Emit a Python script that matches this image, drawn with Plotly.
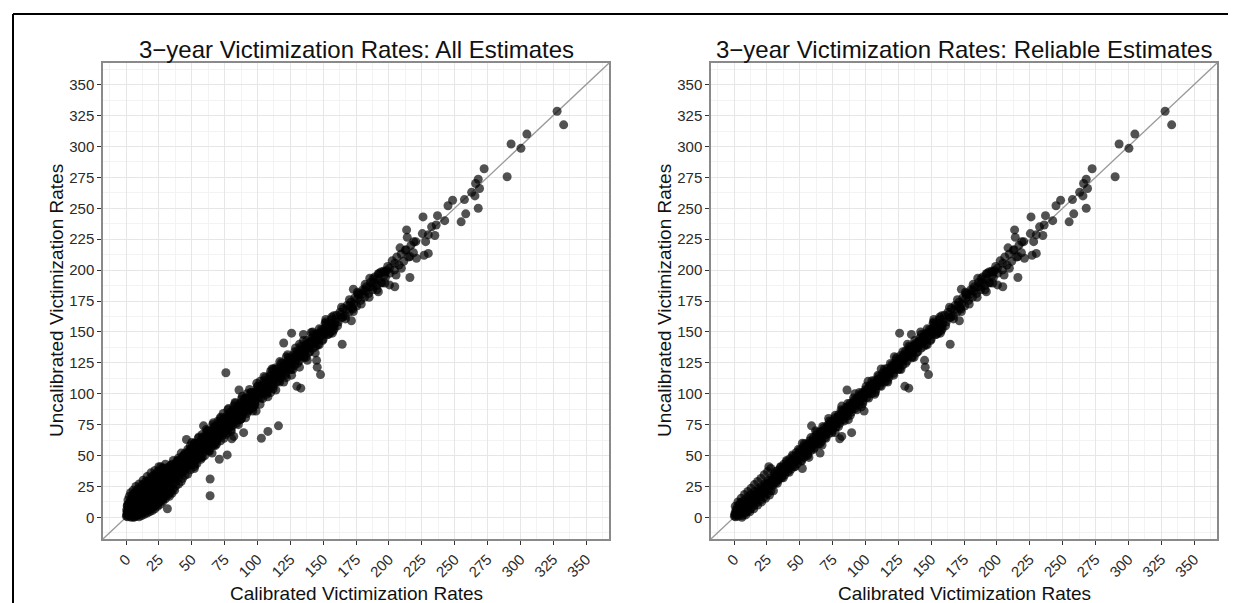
import plotly.graph_objects as go

# ---------------- data (calibrated x, uncalibrated y) ----------------
tick_vals = [0, 25, 50, 75, 100, 125, 150, 175, 200, 225, 250, 275, 300, 325, 350]
axis_range = [-17.5, 367.5]

# points present in both panels (reliable estimates)
core_low = [(0.3, 1.0), (0.8, 3.5), (1.2, 0.5), (1.5, 6.0), (2.0, 2.5), (2.4, 8.0), (3.0, 1.0), (3.3, 5.0),
            (3.8, 10.0), (4.2, 2.5), (4.6, 7.5), (5.0, 12.0), (5.5, 4.0), (5.8, 9.0), (6.3, 1.5), (6.9, 13.0),
            (7.2, 6.5), (7.8, 10.5), (8.4, 3.5), (8.9, 15.0), (9.3, 8.0), (9.9, 12.5), (10.5, 5.0), (11.0, 17.0),
            (11.6, 10.0), (12.1, 14.0), (12.8, 7.0), (13.3, 19.0), (13.9, 12.0), (14.6, 16.5), (15.2, 9.5),
            (15.8, 21.0), (16.4, 14.0), (17.1, 18.5), (17.6, 12.0), (18.3, 23.0), (19.0, 16.5), (19.6, 20.5),
            (20.2, 14.0), (20.9, 25.0), (21.5, 18.5), (22.2, 23.0), (22.8, 16.5), (23.5, 27.5), (24.1, 20.5),
            (24.8, 25.0), (25.5, 19.0), (26.1, 30.0), (26.8, 23.0), (27.4, 27.5), (28.1, 21.5), (28.9, 32.5),
            (29.5, 26.0), (30.2, 29.5)]

core_mid = [(31.0, 35.5), (31.8, 28.0), (32.5, 33.0), (33.3, 38.0), (34.0, 30.5), (34.8, 35.5), (35.5, 40.5),
            (36.3, 32.0), (37.0, 37.5), (37.9, 43.0), (38.6, 34.5), (39.4, 39.5), (40.1, 45.0), (41.0, 37.0),
            (41.8, 42.0), (42.5, 47.5), (43.4, 39.0), (44.2, 44.5), (45.0, 49.5), (45.9, 41.0), (46.6, 46.5),
            (47.5, 52.5), (48.3, 43.5), (49.1, 49.0), (50.0, 54.5), (50.9, 46.0), (51.7, 51.5), (52.6, 57.0),
            (53.4, 48.5), (54.3, 54.0), (55.1, 59.5), (56.0, 51.0), (56.9, 56.5), (57.7, 62.0), (58.6, 54.0),
            (59.5, 59.0), (60.4, 64.5), (61.2, 56.5), (62.1, 61.5), (63.0, 67.0), (63.9, 59.0), (64.8, 64.0),
            (65.7, 69.5), (66.6, 61.5), (67.5, 67.0), (68.4, 72.5), (69.3, 64.5), (70.2, 69.5), (71.1, 74.5),
            (72.0, 67.5), (73.0, 72.5), (73.9, 77.5), (74.8, 70.5), (75.8, 75.5), (76.7, 80.5), (77.6, 73.0),
            (78.6, 78.0), (79.5, 83.0), (80.5, 76.0), (81.4, 81.0), (82.4, 86.0), (83.3, 79.0), (84.3, 84.0),
            (85.3, 89.0), (86.2, 82.0), (87.2, 87.0), (88.2, 92.0), (89.2, 85.0), (90.1, 90.0), (91.1, 94.5),
            (92.1, 88.0), (93.1, 93.0), (94.1, 97.5), (95.1, 91.0), (96.1, 96.0), (97.1, 100.5), (98.1, 94.0),
            (99.1, 99.0), (100.1, 103.5)]

core_upper = [(101.2, 97.0), (102.3, 101.5), (103.4, 107.0), (104.5, 100.0), (105.6, 104.5), (106.7, 110.5),
              (107.8, 103.0), (108.9, 108.0), (110.0, 114.0), (111.1, 106.5), (112.2, 111.0), (113.3, 117.0),
              (114.5, 109.5), (115.6, 114.5), (116.7, 120.5), (117.8, 113.0), (119.0, 118.0), (120.1, 123.5),
              (121.3, 116.5), (122.4, 121.5), (123.6, 127.5), (124.7, 119.5), (125.9, 125.0), (127.0, 131.0),
              (128.2, 123.0), (129.4, 128.5), (130.5, 134.5), (131.7, 126.5), (132.9, 132.0), (134.1, 137.5),
              (135.3, 130.0), (136.5, 135.5), (137.7, 140.5), (138.9, 133.0), (140.1, 139.0), (141.3, 145.0),
              (142.5, 137.0), (143.8, 142.5), (145.0, 148.5), (146.2, 140.0), (147.5, 146.0), (148.7, 152.0),
              (150.0, 144.0), (151.2, 150.0), (152.5, 156.0), (153.8, 148.0), (155.0, 153.5), (156.3, 160.0),
              (157.6, 151.0), (158.9, 157.0), (160.2, 163.5)]

core_fill = [(0.6, 2.2), (1.7, 4.0), (2.8, 3.5), (3.6, 7.8), (4.8, 5.8), (5.9, 6.5), (6.6, 10.8), (7.6, 8.0),
             (8.7, 7.5), (9.6, 12.8), (10.8, 11.0), (11.9, 9.5), (12.5, 15.5), (13.6, 14.5), (14.9, 12.0),
             (15.5, 18.0), (16.7, 17.5), (17.9, 15.0), (18.6, 21.0), (19.8, 19.5), (20.6, 17.5), (21.8, 24.0),
             (22.5, 20.0), (23.8, 22.5), (24.5, 27.0), (25.8, 26.0), (26.5, 25.0), (27.8, 30.0), (28.5, 28.5),
             (29.8, 27.5), (30.6, 33.0), (31.4, 31.5), (32.9, 30.0), (33.7, 35.5), (34.4, 33.0), (35.9, 33.0),
             (36.7, 39.5), (37.4, 36.0), (38.9, 36.5), (39.8, 42.0), (40.6, 40.5), (41.4, 39.5), (42.9, 45.0),
             (43.8, 42.5), (44.6, 42.0), (45.4, 47.5), (46.2, 44.5), (47.0, 48.5), (47.9, 46.5), (48.7, 46.5),
             (49.6, 52.0), (50.4, 49.5), (51.3, 49.0), (52.1, 54.5), (53.0, 52.0), (53.8, 51.0), (54.7, 57.0),
             (55.6, 54.5), (56.4, 54.0), (57.3, 59.5), (58.2, 57.5), (59.0, 56.5), (59.9, 62.0), (60.8, 60.0),
             (61.7, 59.0), (62.6, 64.5), (63.4, 62.5), (64.3, 61.5), (65.2, 67.0), (66.1, 65.0), (67.0, 64.5),
             (67.9, 70.0), (68.8, 67.5), (69.7, 67.0), (70.6, 72.5), (71.5, 70.5), (72.5, 70.0), (73.4, 75.5),
             (74.3, 73.0), (75.3, 72.5), (76.2, 78.0), (77.1, 76.0), (78.1, 75.5), (79.0, 81.0), (80.0, 79.0),
             (80.9, 78.5), (81.9, 84.0), (82.8, 82.0), (83.8, 81.5), (84.8, 87.0), (85.7, 85.0), (86.7, 84.5),
             (87.7, 90.0), (88.6, 88.0), (89.6, 87.5), (90.6, 92.5), (91.6, 91.0), (92.6, 90.5), (93.6, 96.0),
             (94.6, 94.0), (95.6, 93.5), (96.6, 99.0), (97.6, 97.0), (98.6, 96.5), (99.6, 102.0), (100.6, 100.5),
             (101.7, 100.0), (102.8, 105.0), (103.9, 103.5), (105.0, 103.0), (106.1, 108.0), (107.2, 106.5),
             (108.3, 106.0), (109.4, 111.5), (110.5, 110.0), (111.6, 109.0), (112.7, 114.5), (113.9, 113.0),
             (115.0, 112.5), (116.1, 118.0), (117.2, 116.5), (118.4, 116.0), (119.5, 121.0), (120.7, 120.0),
             (121.8, 119.5), (123.0, 124.5), (124.1, 123.0), (125.3, 122.5), (126.4, 128.0), (127.6, 127.0),
             (128.8, 126.5), (129.9, 132.0), (131.1, 130.5), (132.3, 130.0), (133.5, 135.5), (134.7, 134.0),
             (135.9, 133.5), (137.1, 139.0), (138.3, 138.0), (139.5, 137.0), (140.7, 142.5), (141.9, 141.0),
             (143.1, 140.5), (144.4, 146.0), (145.6, 145.0), (146.8, 144.0), (148.1, 149.5), (149.3, 148.5),
             (150.6, 147.5), (151.8, 153.0), (153.1, 152.0), (154.4, 151.5), (155.7, 157.0), (156.9, 155.5),
             (158.2, 154.5), (159.5, 160.0)]

core_fill2 = [(2.2, 2.8), (4.4, 5.2), (6.1, 7.5), (8.2, 9.9), (10.2, 10.0), (12.3, 12.9), (14.1, 15.3),
              (16.1, 15.8), (18.0, 19.3), (20.0, 20.9), (22.0, 21.4), (24.0, 25.1), (26.0, 27.5), (28.0, 27.1),
              (30.0, 31.2), (32.0, 33.6), (34.0, 33.8), (36.0, 37.4), (38.0, 39.6), (40.0, 39.8), (42.0, 43.5),
              (44.0, 45.6), (46.0, 46.0), (48.0, 49.4), (50.0, 51.7), (52.0, 51.9), (54.0, 55.6), (56.0, 57.7),
              (58.0, 58.0), (60.0, 61.4), (62.0, 63.6), (64.0, 64.1), (66.0, 67.5), (68.0, 69.8), (70.0, 70.0),
              (72.0, 73.6), (74.0, 75.7), (76.0, 76.1), (78.0, 79.5), (80.0, 81.7), (82.0, 82.0), (84.0, 85.6),
              (86.0, 87.8), (88.0, 88.1), (90.0, 91.5), (92.0, 93.7), (94.0, 94.0), (96.0, 97.6), (98.0, 99.8),
              (100.0, 100.1), (102.0, 103.5), (104.0, 105.7), (106.0, 106.0), (108.0, 109.6), (110.0, 111.8),
              (112.0, 112.1), (114.0, 115.5), (116.0, 117.7), (118.0, 118.0), (120.0, 121.6), (122.0, 123.8),
              (124.0, 124.1), (126.0, 127.5), (128.0, 129.7), (130.0, 130.0), (132.0, 133.6), (134.0, 135.8),
              (136.0, 136.1), (138.0, 139.5), (140.0, 141.7), (142.0, 142.0), (144.0, 145.6), (146.0, 147.8),
              (148.0, 148.1), (150.0, 151.5)]

core_edge = [(31.5, 37.0), (33.0, 27.5), (35.5, 41.0), (37.5, 32.0), (40.0, 46.0), (42.0, 36.5), (44.5, 50.5),
             (46.5, 41.0), (49.0, 55.0), (51.5, 45.5), (53.5, 59.5), (56.0, 50.0), (58.5, 64.5), (60.5, 55.0),
             (63.0, 69.0), (65.5, 59.5), (67.5, 73.5), (70.0, 64.0), (72.5, 78.0), (74.5, 68.5), (77.0, 82.5),
             (79.5, 73.5), (81.5, 87.0), (84.0, 78.0), (86.5, 92.0), (88.5, 82.5), (91.0, 96.5), (93.5, 87.0),
             (95.5, 101.0), (98.0, 92.0), (100.5, 106.0), (102.5, 96.5), (105.0, 110.5), (107.5, 101.0),
             (109.5, 115.0), (112.0, 106.0), (114.5, 120.0), (116.5, 110.5), (119.0, 124.5), (121.5, 115.0),
             (123.5, 129.0), (126.0, 120.0), (128.5, 134.0), (130.5, 124.5), (133.0, 138.5), (135.5, 129.0),
             (137.5, 143.0), (140.0, 134.0), (142.5, 148.0), (144.5, 138.5), (147.0, 152.5), (149.5, 143.0),
             (151.5, 157.0), (154.0, 148.0), (156.5, 162.0), (158.5, 152.5),
             (1.0, 9.0), (3.0, 12.5), (5.5, 15.5), (8.0, 18.5), (10.5, 21.0), (13.0, 23.5), (15.5, 26.5),
             (18.0, 29.0), (20.5, 31.5), (23.0, 34.5), (25.5, 37.0), (28.0, 39.5), (6.0, 0.0), (9.0, 2.0),
             (12.0, 4.5), (15.0, 7.0), (18.0, 10.0), (21.0, 12.5), (24.0, 15.5), (27.0, 18.0), (30.0, 21.5),
             (52.0, 60.0), (57.0, 48.5), (62.0, 70.0), (67.0, 58.5), (72.0, 80.0), (77.0, 68.5), (82.0, 90.0),
             (87.0, 79.0), (92.0, 100.0), (97.0, 89.5), (102.0, 110.0), (107.0, 99.5), (112.0, 120.0),
             (117.0, 109.5), (122.0, 130.0), (127.0, 119.5), (132.0, 140.0), (137.0, 129.5), (142.0, 150.0),
             (147.0, 139.5), (152.0, 160.0), (157.0, 149.0)]

core_high = [(161.5, 158.0), (162.8, 166.0), (164.2, 161.5), (165.5, 169.0), (166.9, 163.0), (168.3, 171.5),
             (169.7, 166.0), (171.1, 174.0), (172.6, 168.5), (174.0, 177.5), (175.5, 171.0), (177.0, 180.0),
             (178.5, 175.5), (180.0, 184.0), (181.5, 178.0), (183.0, 186.5), (184.6, 181.0), (186.1, 190.0),
             (187.7, 184.0), (189.3, 194.5), (190.9, 187.5), (192.5, 197.0), (194.1, 190.0), (195.8, 199.0),
             (197.4, 194.0), (199.1, 203.0), (200.8, 197.5), (202.5, 207.5), (204.2, 200.0), (206.0, 210.5),
             (207.8, 204.0), (209.5, 213.0), (211.3, 207.0), (213.1, 216.5), (215.0, 210.5), (216.8, 220.0),
             (218.7, 214.0), (220.5, 223.0), (163.5, 164.0), (165.0, 162.0), (167.5, 168.0), (170.4, 171.5),
             (171.8, 169.5), (173.3, 172.5), (176.2, 177.0), (179.2, 180.5), (182.3, 183.0), (185.3, 186.5),
             (188.5, 190.0), (191.7, 192.5), (196.6, 196.0), (198.2, 199.5), (152.0, 158.0), (155.5, 149.5),
             (158.0, 163.0), (161.0, 155.0), (164.0, 170.0), (167.0, 160.5), (170.0, 176.0), (173.0, 166.5),
             (176.0, 182.0), (179.0, 172.5), (182.0, 188.5), (185.0, 178.0), (188.0, 193.0), (191.0, 184.0),
             (194.0, 198.5), (197.0, 189.5)]

core_sparse = [(328.0, 328.5), (333.0, 317.5), (305.0, 310.0), (300.5, 298.5), (293.0, 302.0), (290.0, 275.5),
               (272.5, 282.0), (268.0, 250.0), (266.0, 270.0), (268.0, 273.5), (269.0, 266.0), (263.0, 263.0),
               (265.5, 260.0), (257.5, 257.0), (258.5, 245.5), (255.0, 239.0), (248.5, 256.5), (245.0, 252.0),
               (242.5, 240.0), (237.0, 244.0), (236.0, 236.5), (232.5, 235.0), (226.0, 243.0), (230.0, 228.5),
               (235.0, 228.0), (225.5, 229.5), (228.0, 223.0), (230.0, 213.5), (226.8, 212.0), (213.5, 232.5),
               (214.0, 226.5), (219.0, 223.0), (212.5, 216.0), (208.5, 218.0), (216.0, 211.0), (221.0, 209.5),
               (216.0, 194.0), (204.5, 205.5), (200.5, 201.5), (197.0, 198.5), (192.0, 197.0), (209.5, 201.5),
               (205.5, 196.0), (200.5, 188.0), (194.5, 189.5), (188.0, 186.5), (185.5, 193.5), (181.5, 184.0),
               (173.0, 184.5), (176.5, 181.0), (204.5, 186.5), (192.0, 182.5),
               (26.5, 41.0), (59.0, 74.0), (65.5, 52.0), (52.0, 39.5), (80.5, 63.5), (82.0, 65.5), (89.5, 68.5),
               (86.0, 103.0), (126.0, 149.0), (135.0, 148.0), (164.5, 140.0), (145.0, 127.0), (145.5, 121.5),
               (148.0, 115.5), (130.0, 106.0), (133.0, 104.5), (171.5, 159.0), (99.0, 86.0)]

# points only among all estimates (not reliable)
unreliable_above = [(0.5, 6.0), (1.0, 10.0), (1.5, 14.0), (2.0, 8.0), (2.5, 17.0), (3.0, 12.0), (3.5, 20.0),
                    (4.0, 15.0), (5.0, 18.0), (5.5, 22.0), (6.0, 16.0), (7.0, 20.0), (7.5, 25.0), (8.0, 18.0),
                    (9.0, 23.0), (10.0, 27.0), (11.0, 21.0), (12.0, 26.0), (13.0, 30.0), (14.0, 24.0), (15.0, 29.0),
                    (16.0, 33.0), (17.0, 27.0), (18.0, 31.0), (19.0, 36.0), (20.0, 30.0), (21.0, 34.0), (22.0, 38.0),
                    (23.0, 32.0), (24.0, 37.0), (25.0, 41.0), (27.0, 35.0), (28.0, 40.0), (30.0, 43.0), (32.0, 38.0),
                    (34.0, 42.0), (36.0, 46.0), (38.0, 44.0), (40.0, 48.0), (42.0, 52.0), (44.0, 50.0), (46.0, 63.0),
                    (47.0, 55.0), (49.0, 58.0), (52.0, 60.0), (55.0, 64.0), (58.0, 67.0), (62.0, 70.0), (66.0, 75.0),
                    (70.0, 78.0), (74.0, 84.0), (78.0, 88.0), (83.0, 92.0), (88.0, 96.0), (76.0, 117.0),
                    (120.0, 141.0), (110.0, 118.0), (118.0, 125.0)]

unreliable_below = [(4.0, 0.0), (6.0, 0.5), (8.0, 1.0), (9.0, 2.5), (10.0, 0.5), (11.0, 3.0), (12.0, 1.5),
                    (13.0, 4.0), (14.0, 2.5), (15.0, 5.0), (16.0, 3.5), (17.0, 6.0), (18.0, 4.5), (19.0, 7.0),
                    (20.0, 5.5), (21.0, 8.5), (22.0, 7.0), (23.0, 10.0), (24.0, 9.0), (25.0, 12.0), (26.0, 10.5),
                    (27.0, 14.0), (28.0, 13.0), (29.0, 16.0), (30.0, 15.0), (31.5, 7.0), (32.0, 18.0), (33.0, 17.0),
                    (34.0, 20.5), (35.0, 19.5), (36.0, 23.0), (37.0, 22.0), (38.0, 25.5), (40.0, 27.0), (42.0, 29.0),
                    (43.0, 31.5), (45.0, 34.0), (47.0, 35.0), (49.0, 38.5), (52.0, 41.0), (54.0, 43.5), (57.0, 47.0),
                    (60.0, 50.0), (64.0, 31.0), (64.0, 17.5), (71.0, 47.0), (77.0, 50.5), (63.0, 54.0), (68.0, 58.0),
                    (72.0, 62.0), (76.0, 67.0), (80.0, 71.0), (84.0, 76.0), (88.0, 80.0), (92.0, 84.0), (96.0, 88.0),
                    (103.0, 64.0), (108.0, 69.5), (116.0, 74.0), (110.0, 101.0), (122.0, 113.0)]

unreliable_fill = [(1.0, 4.5), (2.0, 11.0), (2.5, 5.0), (3.0, 9.0), (4.0, 12.0), (4.5, 4.5), (5.0, 15.0),
                   (6.0, 11.0), (6.5, 19.0), (7.0, 3.0), (7.5, 15.0), (8.0, 21.0), (8.5, 12.0), (9.0, 18.0),
                   (9.5, 4.0), (10.0, 23.0), (10.5, 15.0), (11.0, 6.5), (11.5, 19.0), (12.0, 24.0), (12.5, 11.0),
                   (13.0, 22.0), (13.5, 5.5), (14.0, 27.0), (14.5, 15.0), (15.0, 8.5), (15.5, 25.0), (16.0, 12.5),
                   (16.5, 29.0), (17.0, 9.0), (17.5, 24.0), (18.0, 15.5), (18.5, 10.0), (19.0, 28.5), (19.5, 13.0),
                   (20.0, 33.0), (20.5, 10.0), (21.0, 27.0), (21.5, 14.0), (22.0, 31.0), (22.5, 12.5), (23.0, 35.0),
                   (23.5, 15.5), (24.0, 29.0), (24.5, 13.0), (25.0, 34.0), (25.5, 16.5), (26.0, 38.0), (26.5, 14.0),
                   (27.0, 32.0), (27.5, 18.0), (28.0, 36.0), (28.5, 16.5), (29.0, 39.0), (29.5, 20.0), (30.0, 35.0),
                   (30.5, 19.0), (31.0, 40.0), (32.0, 22.5), (33.0, 41.0), (34.0, 24.0), (35.0, 43.0), (36.0, 27.0),
                   (37.0, 42.0), (38.0, 29.5), (39.0, 46.0), (40.0, 32.0), (41.0, 46.0), (42.0, 35.5), (43.0, 49.0),
                   (44.0, 37.5), (45.0, 52.0), (46.0, 39.5), (48.0, 53.5), (50.0, 42.5), (51.0, 57.0), (53.0, 46.0),
                   (54.0, 59.5), (56.0, 49.0), (57.0, 62.5), (59.0, 52.5), (60.0, 66.0), (62.0, 55.0), (64.0, 69.0),
                   (66.0, 58.5), (67.0, 73.0), (69.0, 62.0), (71.0, 76.5), (73.0, 66.0), (75.0, 80.5), (77.0, 70.0),
                   (79.0, 85.0), (81.0, 74.0), (85.0, 90.0), (87.0, 79.0), (90.0, 96.0), (93.0, 86.0), (95.0, 101.0),
                   (98.0, 91.0), (100.0, 106.0), (104.0, 96.0), (106.0, 113.0), (112.0, 104.0), (114.0, 121.0)]

unreliable_wide = [(50.0, 60.5), (52.5, 43.0), (55.5, 65.0), (58.0, 48.5), (61.0, 71.0), (63.5, 53.5), (66.5, 76.5),
                   (69.0, 59.5), (72.0, 81.0), (74.5, 64.0), (77.5, 87.0), (80.0, 69.5), (83.0, 93.0), (85.5, 75.0),
                   (88.5, 98.0), (91.0, 80.5), (94.0, 103.5), (96.5, 86.0), (99.5, 108.5), (102.0, 91.5),
                   (105.0, 114.0), (108.0, 97.5), (111.0, 120.0), (114.0, 103.0), (117.0, 126.0), (120.0, 109.5),
                   (123.0, 131.5), (126.0, 115.0), (129.0, 137.0), (132.0, 121.5), (135.0, 143.0), (138.0, 127.0),
                   (141.0, 149.5), (144.0, 133.0)]

titles = ["3\u2212year Victimization Rates: All Estimates", "3\u2212year Victimization Rates: Reliable Estimates"]
x_title = "Calibrated Victimization Rates"
y_title = "Uncalibrated Victimization Rates"

reliable = core_low + core_mid + core_fill + core_fill2 + core_edge + core_upper + core_high + core_sparse
all_est = reliable + unreliable_above + unreliable_below + unreliable_fill + unreliable_wide

# ---------------- figure ----------------
W, H = 1236, 603
FONT = "Liberation Sans, Arial, sans-serif"

def fx(p):
    return p / W

def fy(p):
    return 1 - p / H

panels = [
    dict(x0=95, x1=601, xa="x", ya="y", data=all_est),
    dict(x0=703, x1=1209, xa="x2", ya="y2", data=reliable),
]
top, bottom = 55, 531

fig = go.Figure()
for i, p in enumerate(panels):
    fig.add_trace(go.Scatter(x=axis_range, y=axis_range, mode="lines",
                             line=dict(color="#9a9a9a", width=1.3),
                             xaxis=p["xa"], yaxis=p["ya"], hoverinfo="skip", showlegend=False))
    fig.add_trace(go.Scatter(x=[d[0] for d in p["data"]], y=[d[1] for d in p["data"]], mode="markers",
                             marker=dict(color="black", size=9, opacity=0.68, line=dict(width=0)),
                             xaxis=p["xa"], yaxis=p["ya"], showlegend=False))

axis_common = dict(
    range=axis_range, tickmode="array", tickvals=tick_vals, ticktext=[str(v) for v in tick_vals],
    showgrid=True, gridcolor="#e6e6e6", gridwidth=1,
    minor=dict(tickmode="linear", tick0=12.5, dtick=25, showgrid=True, gridcolor="#f3f3f3", gridwidth=1, ticks=""),
    zeroline=False, showline=True, linecolor="#8a8a8a", linewidth=1.5, mirror=True,
    ticks="outside", ticklen=4, tickwidth=1, tickcolor="#333333",
    tickfont=dict(family=FONT, size=15, color="#2a2a2a"),
)

layout = dict(width=W, height=H, margin=dict(l=0, r=0, t=0, b=0),
              paper_bgcolor="white", plot_bgcolor="white", showlegend=False)
for i, p in enumerate(panels):
    sx = "" if i == 0 else "2"
    layout["xaxis" + sx] = dict(axis_common, domain=[fx(p["x0"]), fx(p["x1"])], anchor="y" + sx, tickangle=-45)
    layout["yaxis" + sx] = dict(axis_common, domain=[fy(bottom), fy(top)], anchor="x" + sx)
fig.update_layout(**layout)

ann = []
for i, p in enumerate(panels):
    cx = (p["x0"] + p["x1"]) / 2
    ann.append(dict(text=titles[i], x=fx(cx), y=fy(41), xref="paper", yref="paper", showarrow=False,
                    xanchor="center", yanchor="middle", font=dict(family=FONT, size=24, color="#111111")))
    ann.append(dict(text=x_title, x=fx(cx), y=fy(585), xref="paper", yref="paper", showarrow=False,
                    xanchor="center", yanchor="middle", font=dict(family=FONT, size=19, color="#111111")))
    ann.append(dict(text=y_title, x=fx(p["x0"] - 47), y=fy((top + bottom) / 2), xref="paper", yref="paper",
                    showarrow=False, textangle=-90, xanchor="center", yanchor="middle",
                    font=dict(family=FONT, size=19, color="#111111")))
fig.update_layout(annotations=ann)

# outer frame of the figure
fig.add_shape(type="line", xref="paper", yref="paper", x0=fx(5), x1=fx(5), y0=fy(6), y1=fy(603),
              line=dict(color="black", width=2))
fig.add_shape(type="line", xref="paper", yref="paper", x0=fx(5), x1=fx(1236), y0=fy(6), y1=fy(6),
              line=dict(color="black", width=2))

fig.write_html("out.html")
